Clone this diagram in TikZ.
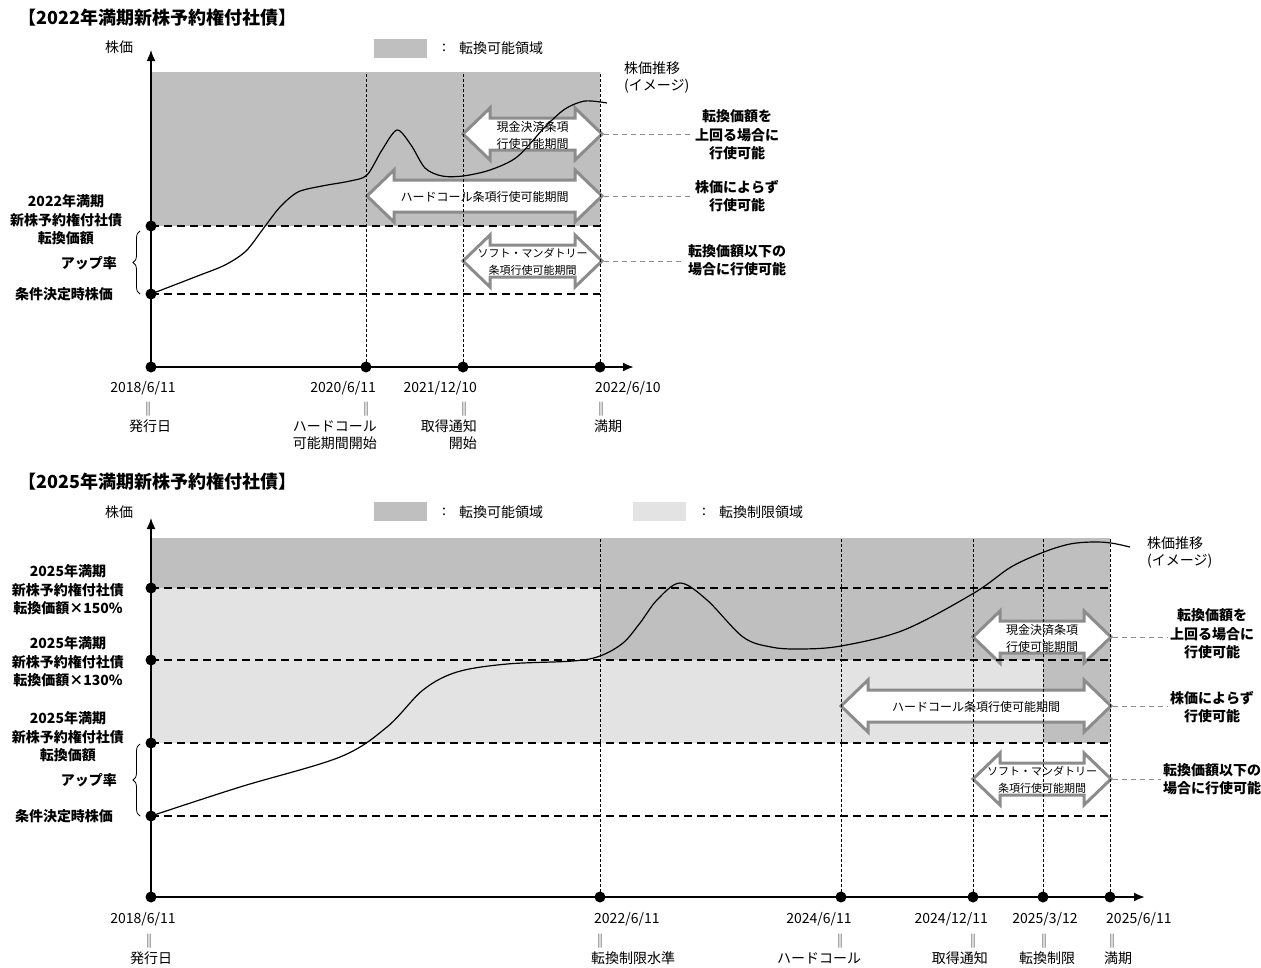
\documentclass[tikz,border=0pt]{standalone}
\usepackage{fontspec}
\setmainfont{Noto Sans CJK JP}
\usetikzlibrary{arrows.meta,decorations.pathreplacing}
\definecolor{darkreg}{HTML}{BFBFBF}
\definecolor{lightreg}{HTML}{E3E3E3}
\definecolor{agray}{HTML}{8C8C8C}
\newcommand\blockarr[6]{%
  \draw[aline] (#1,#3) -- ({#1+27},{#3-26}) -- ({#1+27},{#3-16}) -- ({#2-27},{#3-16}) -- ({#2-27},{#3-26}) -- (#2,#3) -- ({#2-27},{#3+26}) -- ({#2-27},{#3+16}) -- ({#1+27},{#3+16}) -- ({#1+27},{#3+26}) -- cycle;
  \node[atext,#6] (#4) at ({(#1+#2)/2},{#3+1}) {#5};
  \coordinate (#4-r) at (#2,#3);}
\begin{document}
\begin{tikzpicture}[x=1pt,y=-1pt,
  reg/.style={font=\fontsize{14}{17}\selectfont, inner sep=0pt},
  bld/.style={font=\fontsize{14}{18.5}\selectfont\bfseries, align=center, inner sep=0pt},
  ttl/.style={font=\fontsize{18}{22}\selectfont\bfseries, anchor=west, inner sep=0pt},
  atext/.style={font=\fontsize{12}{17}\selectfont, align=center, inner sep=0pt},
  aline/.style={draw=agray, fill=white, line width=3pt, line join=miter},
  dot/.style={circle, fill=black, minimum size=11pt, inner sep=0pt},
  hdash/.style={dash pattern=on 8pt off 5pt, line width=1.2pt},
  vdot/.style={dash pattern=on 3pt off 2pt, line width=0.9pt},
  gconn/.style={draw=agray, dash pattern=on 5pt off 4pt, line width=1pt},
  axisline/.style={line width=1.5pt},
  tipped/.style={-{Latex[length=11pt,width=9pt]}},
  curve/.style={line width=1.2pt},
  brc/.style={decorate, decoration={brace, amplitude=7pt}, line width=0.8pt}
]
\useasboundingbox (0,0) rectangle (1261,967);

% ================= TOP CHART =================
\node[ttl] (title1) at (18,18) {【2022年満期新株予約権付社債】};
\fill[darkreg] (152,72) rectangle (600,226);
% legend
\fill[darkreg] (374,39) rectangle (427,58);
\node[reg] (lgc1) at (444,48) {:};
\node[reg, anchor=west] (lg1) at (459,48) {転換可能領域};
\node[reg] (yl1) at (119,47) {株価};

% block arrows
\blockarr{463}{602}{134}{tcash}{現金決済条項\\行使可能期間}{}
\blockarr{367}{602}{196}{thard}{ハードコール条項行使可能期間}{}
\blockarr{463}{602}{261}{tsoft}{ソフト・マンダトリー\\条項行使可能期間}{font=\fontsize{11}{17}\selectfont}

% dots
\node[dot] (t0) at (151,367) {};
\node[dot] (t1) at (366,367) {};
\node[dot] (t2) at (463,367) {};
\node[dot] (t3) at (600,367) {};
\node[dot] (tcp) at (151,226) {};
\node[dot] (tbase) at (151,294) {};
\coordinate (tyend) at (151,50);
\coordinate (txend) at (634,367);

% grid lines
\draw[hdash] (tcp.center) -- (600,226);
\draw[hdash] (tbase.center) -- (600,294);
\draw[vdot] (t1.center) -- (366,72);
\draw[vdot] (t2.center) -- (463,72);
\draw[vdot] (t3.center) -- (600,72);

% axes
\draw[axisline, tipped] (t0.center) -- (tyend);
\draw[axisline, line width=2pt, tipped] (t0.center) -- (txend);

% curve
\draw[curve] plot[smooth, tension=0.5] coordinates {(151,294) (195,277) (225,265) (246,251) (263,229) (280,207) (298,192) (322,186) (350,181) (367,175) (382,150) (397,130) (411,145) (425,168) (442,176) (463,176) (490,170) (517,157) (545,127) (565,109) (585,101) (607,103)};
\node[reg, anchor=west, align=left] (tcurve) at (624,77) {株価推移\\(イメージ)};

% left labels
\node[bld] (lcp1) at (66,220) {2022年満期\\新株予約権付社債\\転換価額};
\node[bld, anchor=east] (lup1) at (117,263) {アップ率};
\node[bld] (lbase1) at (64,294) {条件決定時株価};
\draw[brc] (140,294) -- (140,231);

% right labels
\node[bld] (rl1) at (737,135) {転換価額を\\上回る場合に\\行使可能};
\node[bld] (rl2) at (737,196) {株価によらず\\行使可能};
\node[bld] (rl3) at (737,260) {転換価額以下の\\場合に行使可能};
\draw[gconn, shorten <=2pt, shorten >=5pt] (tcash-r) -- (tcash-r -| rl1.west);
\draw[gconn, shorten <=2pt, shorten >=5pt] (thard-r) -- (thard-r -| rl2.west);
\draw[gconn, shorten <=2pt, shorten >=3pt] (tsoft-r) -- (tsoft-r -| rl3.west);

% date labels
\node[reg] (td0) at (143,388) {2018/6/11};
\node[reg] (te0) at (148,409) {‖};
\node[reg] (tn0) at (150,426) {発行日};
\node[reg, anchor=east] (td1) at (376,388) {2020/6/11};
\node[reg] (te1) at (366,409) {‖};
\node[reg, anchor=east, align=right] (tn1) at (377,435) {ハードコール\\可能期間開始};
\node[reg, anchor=east] (td2) at (477,388) {2021/12/10};
\node[reg] (te2) at (464,409) {‖};
\node[reg, anchor=east, align=right] (tn2) at (477,435) {取得通知\\開始};
\node[reg, anchor=west] (td3) at (595,388) {2022/6/10};
\node[reg] (te3) at (601,409) {‖};
\node[reg, anchor=west] (tn3) at (594,426) {満期};

% ================= BOTTOM CHART =================
\node[ttl] (title2) at (18,482) {【2025年満期新株予約権付社債】};
\fill[darkreg] (152,538) rectangle (1110,588);
\fill[lightreg] (152,588) rectangle (600,743);
\fill[darkreg] (600,588) rectangle (1110,660);
\fill[lightreg] (600,660) rectangle (1043,743);
\fill[darkreg] (1043,660) rectangle (1110,743);
% legend
\fill[darkreg] (374,502) rectangle (427,521);
\node[reg] (lgc2) at (444,512) {:};
\node[reg, anchor=west] (lg2) at (459,512) {転換可能領域};
\fill[lightreg] (633,502) rectangle (686,521);
\node[reg] (lgc3) at (704,512) {:};
\node[reg, anchor=west] (lg3) at (719,512) {転換制限領域};
\node[reg] (yl2) at (119,512) {株価};

% block arrows
\blockarr{973}{1111}{637}{bcash}{現金決済条項\\行使可能期間}{}
\blockarr{841}{1111}{706}{bhard}{ハードコール条項行使可能期間}{}
\blockarr{973}{1111}{779}{bsoft}{ソフト・マンダトリー\\条項行使可能期間}{font=\fontsize{11}{17}\selectfont}

% dots
\node[dot] (b0) at (151,897) {};
\node[dot] (b1) at (600,897) {};
\node[dot] (b2) at (841,897) {};
\node[dot] (b3) at (973,897) {};
\node[dot] (b4) at (1043,897) {};
\node[dot] (b5) at (1110,897) {};
\node[dot] (b150) at (151,588) {};
\node[dot] (b130) at (151,660) {};
\node[dot] (bcp) at (151,743) {};
\node[dot] (bbase) at (151,816) {};
\coordinate (byend) at (151,518);
\coordinate (bxend) at (1145,897);

% grid lines
\draw[hdash] (b150.center) -- (1110,588);
\draw[hdash] (b130.center) -- (1110,660);
\draw[hdash] (bcp.center) -- (1110,743);
\draw[hdash] (bbase.center) -- (1110,816);
\draw[vdot] (b1.center) -- (600,538);
\draw[vdot] (b2.center) -- (841,538);
\draw[vdot] (b3.center) -- (973,538);
\draw[vdot] (b4.center) -- (1043,538);
\draw[vdot] (b5.center) -- (1110,538);

% axes
\draw[axisline, tipped] (b0.center) -- (byend);
\draw[axisline, line width=2pt, tipped] (b0.center) -- (bxend);

% curve
\draw[curve] plot[smooth, tension=0.55] coordinates {(151,816) (240,787) (340,757) (387,727) (423,690) (457,672) (507,664) (573,661) (600,656) (623,643) (640,623) (657,600) (680,583) (707,600) (743,637) (771,647) (800,649) (841,646) (904,630) (974,593) (1011,567) (1044,552) (1070,544) (1093,542) (1111,543) (1130,547)};
\node[reg, anchor=west, align=left] (bcurve) at (1147,552) {株価推移\\(イメージ)};

% left labels
\node[bld] (l150) at (68,590) {2025年満期\\新株予約権付社債\\転換価額×150\%};
\node[bld] (l130) at (68,662) {2025年満期\\新株予約権付社債\\転換価額×130\%};
\node[bld] (lcp2) at (68,737) {2025年満期\\新株予約権付社債\\転換価額};
\node[bld, anchor=east] (lup2) at (117,780) {アップ率};
\node[bld] (lbase2) at (64,816) {条件決定時株価};
\draw[brc] (140,816) -- (140,744);

% right labels
\node[bld] (rb1) at (1212,634) {転換価額を\\上回る場合に\\行使可能};
\node[bld] (rb2) at (1212,707) {株価によらず\\行使可能};
\node[bld] (rb3) at (1212,779) {転換価額以下の\\場合に行使可能};
\draw[gconn, shorten <=2pt, shorten >=2pt] (bcash-r) -- (bcash-r -| rb1.west);
\draw[gconn, shorten <=2pt, shorten >=2pt] (bhard-r) -- (bhard-r -| rb2.west);
\draw[gconn, shorten <=2pt, shorten >=2pt] (bsoft-r) -- (bsoft-r -| rb3.west);

% date labels
\node[reg] (bd0) at (143,919) {2018/6/11};
\node[reg] (be0) at (149,941) {‖};
\node[reg] (bn0) at (151,958) {発行日};
\node[reg, anchor=west] (bd1) at (594,919) {2022/6/11};
\node[reg] (be1) at (600,941) {‖};
\node[reg, anchor=west] (bn1) at (591,958) {転換制限水準};
\node[reg] (bd2) at (819,919) {2024/6/11};
\node[reg] (be2) at (840,941) {‖};
\node[reg] (bn2) at (819,958) {ハードコール};
\node[reg, anchor=east] (bd3) at (988,919) {2024/12/11};
\node[reg] (be3) at (973,941) {‖};
\node[reg, anchor=east] (bn3) at (988,958) {取得通知};
\node[reg] (bd4) at (1045,919) {2025/3/12};
\node[reg] (be4) at (1044,941) {‖};
\node[reg] (bn4) at (1047,958) {転換制限};
\node[reg, anchor=west] (bd5) at (1106,919) {2025/6/11};
\node[reg] (be5) at (1112,941) {‖};
\node[reg, anchor=west] (bn5) at (1104,958) {満期};
\end{tikzpicture}
\end{document}
